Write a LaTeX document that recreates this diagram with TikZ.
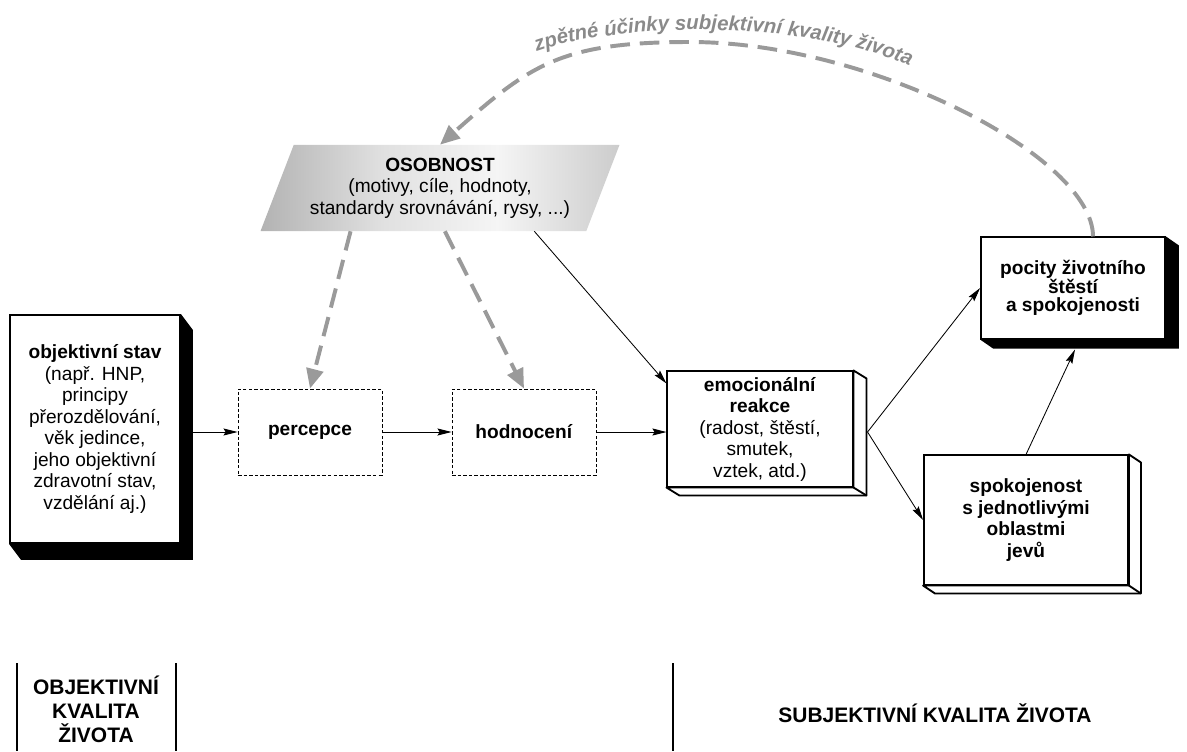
\documentclass[tikz,border=0pt]{standalone}
\usepackage{fontspec}
\setmainfont{Liberation Sans}
\usetikzlibrary{arrows.meta,calc,shapes.geometric,decorations.text}
\definecolor{fbgray}{HTML}{9A9A9A}
\definecolor{txtgray}{HTML}{8A8A8A}
\pgfdeclarehorizontalshading{osobshade}{100bp}{color(0bp)=(black!30); color(25bp)=(black!30);
  color(42bp)=(black!12); color(58bp)=(black!4); color(75bp)=(black!20); color(100bp)=(black!20)}

% black extruded side of a box
\newcommand{\solidside}[3]{%
  \fill (#1.north east) -- ++(#2,#3) -- ($(#1.south east)+(#2,#3)$) -- ($(#1.south west)+(#2,#3)$) -- (#1.south west) -- (#1.south east) -- cycle;}
% white extruded side of a box
\newcommand{\openside}[3]{%
  \draw[line width=1.3pt, fill=white, line join=round] (#1.north east) -- ++(#2,#3) -- ($(#1.south east)+(#2,#3)$) -- ($(#1.south west)+(#2,#3)$) -- (#1.south west) -- (#1.south east) -- cycle;
  \draw[line width=1.3pt] (#1.south east) -- ++(#2,#3);}

\begin{document}
\begin{tikzpicture}[x=0.025cm, y=-0.025cm,
    every node/.style={font=\fontsize{13.6}{15.3}\selectfont, align=center},
    box/.style={draw, line width=1.3pt, fill=white, inner sep=2pt},
    stage/.style={draw, line width=0.6pt, dash pattern=on 2.5pt off 1.5pt, minimum width=3.6cm, minimum height=2.15cm},
    flow/.style={line width=0.6pt, -{Stealth[length=10pt,width=5pt,inset=1.5pt]}},
    influence/.style={line width=2.8pt, fbgray, dash pattern=on 14pt off 7pt, -{Triangle[length=14pt,width=12pt]}},
    divider/.style={line width=2pt},
    label/.style={font=\fontsize{14.9}{17}\selectfont\bfseries}
]
    \useasboundingbox (0,0) rectangle (1187,751);

    % Osobnost
    \node[trapezium, trapezium left angle=64, trapezium right angle=116, trapezium stretches=true,
          minimum width=9cm, minimum height=2.15cm, inner sep=0pt, shading=osobshade] (osobnost) at (440,188)
        {\textbf{OSOBNOST}\\(motivy, cíle, hodnoty,\\standardy srovnávání, rysy, ...)};

    % Objektivni stav a zpracovani
    \node[box, minimum width=4.25cm, minimum height=5.7cm] (objektiv) at (95,429)
        {\textbf{objektivní stav}\\(např. HNP,\\principy\\přerozdělování,\\věk jedince,\\jeho objektivní\\zdravotní stav,\\vzdělání aj.)};
    \solidside{objektiv}{12}{16}
    \node[stage] (percepce) at (310,432) {\textbf{percepce}};
    \node[stage] (hodnoceni) at (524,432) {\textbf{hodnocení}};

    % Subjektivni strana
    \node[box, minimum width=4.63cm, minimum height=2.88cm] (emoce) at (760,429)
        {\textbf{emocionální}\\\textbf{reakce}\\(radost, štěstí,\\smutek,\\vztek, atd.)};
    \openside{emoce}{13}{8}
    \node[box, minimum width=4.6cm, minimum height=2.53cm, font=\fontsize{13.6}{13.2}\selectfont\bfseries] (pocity) at (1073,288)
        {pocity životního\\štěstí\\a spokojenosti};
    \solidside{pocity}{13}{9}
    \node[box, minimum width=5.1cm, minimum height=3.23cm, font=\fontsize{13.6}{15.3}\selectfont\bfseries] (spokojenost) at (1026,520)
        {spokojenost\\s jednotlivými\\oblastmi\\jevů};
    \openside{spokojenost}{12}{8}

    % Tok
    \draw[flow] ($(objektiv.east |- percepce.west)+(12,0)$) -- (percepce.west);
    \draw[flow] (percepce.east) -- (hodnoceni.west);
    \draw[flow] (hodnoceni.east) -- (emoce.west |- hodnoceni.east);
    \draw[flow] ($(osobnost.bottom left corner)!0.84!(osobnost.bottom right corner)$) -- ($(emoce.north west)+(0,13)$);
    \coordinate (emoout) at ($(emoce.east)+(14,3)$);
    \draw[flow] (emoout) -- (pocity.west);
    \draw[flow] (emoout) -- (spokojenost.west);
    \draw[flow] (spokojenost.north) -- ($(pocity.south)+(2,10)$);

    % Vliv osobnosti
    \draw[influence] ($(osobnost.bottom left corner)!0.277!(osobnost.bottom right corner)$) -- (percepce.north);
    \draw[influence] ($(osobnost.bottom left corner)!0.566!(osobnost.bottom right corner)$) -- (hodnoceni.north);

    % Zpetne ucinky
    \coordinate (fbstart) at ($(pocity.north)+(20,0)$);
    \coordinate (fbctrl) at ($(fbstart)+(0,-80)$);
    \coordinate (fbtop) at (690,42);
    \draw[influence] (fbstart) .. controls (fbctrl) and (870,42) .. (fbtop)
        .. controls (560,42) and (530,65) .. (osobnost.north);
    \path[decorate, decoration={text along path, text color=txtgray, text align=center,
          text={|\fontsize{14.5}{16}\selectfont\bfseries\itshape|zpětné účinky subjektivní kvality života}}]
        (528,55) .. controls (600,24) and (800,14) .. (918,70);

    % Deleni
    \draw[divider] (17,663) -- (17,751);
    \draw[divider] (176,663) -- (176,751);
    \draw[divider] (673,663) -- (673,751);
    \node[label] (objlabel) at (96,709) {OBJEKTIVNÍ\\KVALITA\\ŽIVOTA};
    \node[label] (subjlabel) at (935,713) {SUBJEKTIVNÍ KVALITA ŽIVOTA};
\end{tikzpicture}
\end{document}
